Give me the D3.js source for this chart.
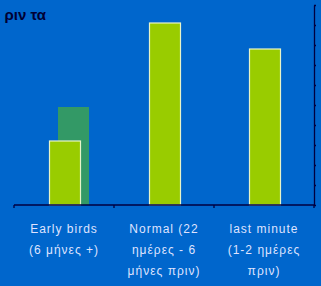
<!DOCTYPE html>
<html>
<head>
<meta charset="utf-8">
<script src="https://cdn.jsdelivr.net/npm/d3@7"></script>
<style>
  html, body { margin: 0; padding: 0; background: #0066cc; }
  svg { display: block; }
</style>
</head>
<body>
<svg id="chart" width="321" height="286"></svg>
<script>
/// data ///
const categories = ["Early birds", "Normal", "last minute"];
const labelLines = [
  ["Early birds", "(6 μήνες +)"],
  ["Normal (22", "ημέρες - 6", "μήνες πριν)"],
  ["last minute", "(1-2 ημέρες", "πριν)"]
];
const frontValues = [32, 91, 78];   // yellow-green series
const backValues = [49, 0, 0];      // dark green series
const yTicks = d3.range(0, 101, 10);
const titleText = "ριν τα";

/// dimensions ///
const width = 321;
const height = 286;
const margin = {top: 5, bottom: 81, right: 7, left: 14};

const svg = d3.select("#chart");

// x scale - one band per category
const xScale = d3.scaleBand()
  .domain(categories)
  .range([margin.left, width - margin.right])
  .padding(0);

// y scale
const yScale = d3.scaleLinear()
  .domain([0, 100])
  .range([height - margin.bottom, margin.top]);

const bw = xScale.bandwidth() * 0.31;
const baseY = yScale(0);

// back series (drawn first, shifted right)
svg.append("g")
  .selectAll("rect")
  .data(backValues)
  .join("rect")
    .attr("x", (d, i) => xScale(categories[i]) + xScale.bandwidth() / 2 - bw / 2 + 9.5)
    .attr("y", d => yScale(d))
    .attr("width", bw)
    .attr("height", d => baseY - yScale(d))
    .attr("fill", "#339966")
    .attr("opacity", d => d > 0 ? 1 : 0);

// front series
svg.append("g")
  .selectAll("rect")
  .data(frontValues)
  .join("rect")
    .attr("x", (d, i) => xScale(categories[i]) + xScale.bandwidth() / 2 - bw / 2 + 1)
    .attr("y", d => yScale(d))
    .attr("width", bw)
    .attr("height", d => baseY - yScale(d))
    .attr("fill", "#99cc00")
    .attr("stroke", "#e8f4c8")
    .attr("stroke-width", 1.2);

// right axis (no labels)
svg.append("g")
  .attr("transform", `translate(${width - margin.right}, 0)`)
  .call(d3.axisRight(yScale).tickValues(yTicks).tickSize(2).tickSizeOuter(0).tickFormat(""))
  .call(g => g.selectAll("line, path").attr("stroke", "#000040").attr("stroke-width", 1.3));

svg.append("line")
  .attr("x1", width - margin.right).attr("x2", width - margin.right)
  .attr("y1", baseY).attr("y2", baseY + 3)
  .attr("stroke", "#000040").attr("stroke-width", 1.3);

// x axis baseline with ticks on the band edges
const xAxis = svg.append("g");
xAxis.append("line")
  .attr("x1", margin.left).attr("x2", width - margin.right)
  .attr("y1", baseY).attr("y2", baseY)
  .attr("stroke", "#000040").attr("stroke-width", 1.3);
xAxis.selectAll(".edge")
  .data(categories.map(c => xScale(c)))
  .join("line")
    .attr("class", "edge")
    .attr("x1", d => d).attr("x2", d => d)
    .attr("y1", baseY).attr("y2", baseY + 3)
    .attr("stroke", "#000040").attr("stroke-width", 1.3);

// category labels
const labels = svg.append("g")
  .selectAll("text")
  .data(labelLines)
  .join("text")
    .attr("x", (d, i) => xScale(categories[i]) + xScale.bandwidth() / 2)
    .attr("y", 233)
    .attr("text-anchor", "middle")
    .attr("fill", "#dfe3ff")
    .attr("font-family", "Liberation Sans, Arial, sans-serif")
    .attr("font-size", 12)
    .attr("letter-spacing", 1);
labels.selectAll("tspan")
  .data(d => d)
  .join("tspan")
    .attr("x", function() { return this.parentNode.getAttribute("x"); })
    .attr("dy", (d, i) => i === 0 ? 0 : 21)
    .text(d => d);

// cropped title
svg.append("text")
  .attr("x", 46)
  .attr("y", 20)
  .attr("text-anchor", "end")
  .attr("fill", "#000033")
  .attr("font-family", "Liberation Sans, Arial, sans-serif")
  .attr("font-weight", "bold")
  .attr("font-size", 15)
  .text(titleText);
</script>
</body>
</html>
